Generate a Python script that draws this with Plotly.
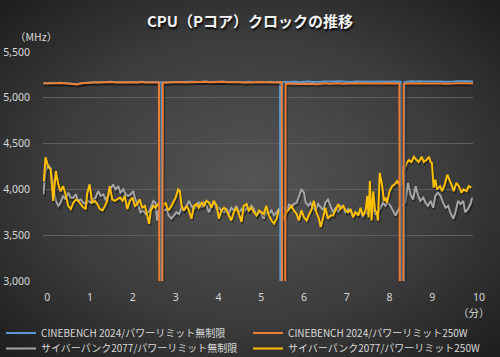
import base64
import plotly.graph_objects as go

# ---------------- data ----------------
x_ticks = [0, 1, 2, 3, 4, 5, 6, 7, 8, 9]
y_ticks = [3000, 3500, 4000, 4500, 5000, 5500]

names = [
    "CINEBENCH 2024/パワーリミット無制限",
    "CINEBENCH 2024/パワーリミット250W",
    "サイバーパンク2077/パワーリミット無制限",
    "サイバーパンク2077/パワーリミット250W",
]
colors = ["#5b9bd5", "#ed7d31", "#a5a5a5", "#ffc000"]

blue_t = [-0.09, 0.0, 0.1, 0.2, 0.3, 0.4, 0.5, 0.6, 0.7, 0.8, 0.9, 1.0, 1.1, 1.2, 1.3, 1.4,
          1.5, 1.6, 1.7, 1.8, 1.9, 2.0, 2.1, 2.2, 2.3, 2.4, 2.5, 2.64, 2.645, 2.665, 2.67,
          2.8, 2.9, 3.0, 3.1, 3.2, 3.3, 3.4, 3.5, 3.6, 3.7, 3.8, 3.9, 4.0, 4.1, 4.2, 4.3,
          4.4, 4.5, 4.6, 4.7, 4.8, 4.9, 5.0, 5.1, 5.2, 5.3, 5.44, 5.45, 5.49, 5.50,
          5.6, 5.7, 5.8, 5.9, 6.0, 6.1, 6.2, 6.3, 6.4, 6.5, 6.6, 6.7, 6.8, 6.9, 7.0, 7.1,
          7.2, 7.3, 7.4, 7.5, 7.6, 7.7, 7.8, 7.9, 8.0, 8.1, 8.26, 8.27, 8.34, 8.35,
          8.4, 8.5, 8.6, 8.7, 8.8, 8.9, 9.0, 9.1, 9.2, 9.3, 9.4, 9.5, 9.6, 9.7, 9.8, 9.95]
blue_v = [5160, 5158, 5162, 5160, 5165, 5162, 5158, 5150, 5147, 5160, 5165, 5168, 5170, 5168,
          5172, 5170, 5175, 5170, 5172, 5176, 5170, 5172, 5168, 5174, 5170, 5172, 5169, 5170,
          2700, 2700, 5168,
          5170, 5173, 5168, 5174, 5170, 5173, 5176, 5170, 5174, 5177, 5172, 5175, 5170, 5176,
          5172, 5174, 5170, 5172, 5168, 5174, 5170, 5175, 5172, 5168, 5174, 5170, 5172,
          2700, 2700, 5170,
          5174, 5172, 5176, 5171, 5175, 5178, 5172, 5170, 5176, 5179, 5174, 5177, 5180, 5175,
          5178, 5173, 5179, 5176, 5180, 5177, 5174, 5179, 5176, 5180, 5175, 5178, 5176,
          2700, 2700, 5172,
          5176, 5180, 5177, 5182, 5178, 5180, 5177, 5182, 5179, 5176, 5181, 5178, 5182, 5177,
          5180, 5178]

orange_t = [-0.09, 0.0, 0.1, 0.2, 0.3, 0.4, 0.5, 0.6, 0.7, 0.8, 0.9, 1.0, 1.1, 1.2, 1.3, 1.4,
            1.5, 1.6, 1.7, 1.8, 1.9, 2.0, 2.1, 2.2, 2.3, 2.4, 2.5, 2.61, 2.62, 2.69, 2.70,
            2.8, 2.9, 3.0, 3.1, 3.2, 3.3, 3.4, 3.5, 3.6, 3.7, 3.8, 3.9, 4.0, 4.1, 4.2, 4.3,
            4.4, 4.5, 4.6, 4.7, 4.8, 4.9, 5.0, 5.1, 5.2, 5.3, 5.48, 5.49, 5.56, 5.57,
            5.6, 5.7, 5.8, 5.9, 6.0, 6.1, 6.2, 6.3, 6.4, 6.5, 6.6, 6.7, 6.8, 6.9, 7.0, 7.1,
            7.2, 7.3, 7.4, 7.5, 7.6, 7.7, 7.8, 7.9, 8.0, 8.1, 8.23, 8.24, 8.32, 8.33,
            8.4, 8.5, 8.6, 8.7, 8.8, 8.9, 9.0, 9.1, 9.2, 9.3, 9.4, 9.5, 9.6, 9.7, 9.8, 9.95]
orange_v = [5158, 5155, 5160, 5157, 5162, 5160, 5155, 5150, 5145, 5158, 5163, 5165, 5168, 5166,
            5170, 5168, 5172, 5168, 5170, 5173, 5168, 5170, 5166, 5172, 5168, 5170, 5167, 5168,
            2700, 2700, 5165,
            5168, 5170, 5166, 5172, 5168, 5170, 5173, 5168, 5171, 5175, 5170, 5172, 5168, 5174,
            5170, 5172, 5168, 5170, 5166, 5171, 5168, 5172, 5170, 5166, 5171, 5168, 5170,
            2700, 2700, 5150,
            5155, 5152, 5156, 5150, 5154, 5157, 5152, 5148, 5155, 5158, 5153, 5156, 5160, 5154,
            5157, 5152, 5158, 5155, 5160, 5156, 5153, 5158, 5155, 5159, 5154, 5157, 5155,
            2700, 2700, 5150,
            5155, 5158, 5155, 5160, 5156, 5158, 5155, 5160, 5157, 5154, 5159, 5156, 5160, 5155,
            5158, 5156]

gray_t = [-0.09, -0.04, 0.02, 0.08, 0.14, 0.20, 0.26, 0.31, 0.37, 0.43, 0.49, 0.55, 0.61, 0.67,
          0.72, 0.78, 0.84, 0.90, 0.96, 1.01, 1.07, 1.13, 1.19, 1.25, 1.31, 1.36, 1.43, 1.48,
          1.54, 1.60, 1.66, 1.71, 1.78, 1.83, 1.89, 1.95, 2.01, 2.06, 2.13, 2.18, 2.24, 2.30,
          2.36, 2.41, 2.48, 2.53, 2.57, 2.62, 2.67, 2.73, 2.79, 2.84, 2.90, 2.96, 3.02, 3.08,
          3.14, 3.19, 3.26, 3.31, 3.37, 3.43, 3.49, 3.54, 3.61, 3.66, 3.72, 3.78, 3.84, 3.89,
          3.96, 4.01, 4.07, 4.13, 4.19, 4.24, 4.30, 4.36, 4.42, 4.48, 4.54, 4.59, 4.66, 4.71,
          4.77, 4.83, 4.89, 4.95, 5.01, 5.06, 5.12, 5.18, 5.24, 5.30, 5.36, 5.41, 5.48, 5.53,
          5.59, 5.65, 5.71, 5.76, 5.83, 5.88, 5.94, 6.00, 6.04, 6.10, 6.15, 6.21, 6.27, 6.33,
          6.39, 6.45, 6.50, 6.56, 6.62, 6.68, 6.74, 6.80, 6.85, 6.92, 6.97, 7.03, 7.09, 7.15,
          7.20, 7.27, 7.32, 7.38, 7.44, 7.50, 7.55, 7.62, 7.67, 7.73, 7.79, 7.85, 7.90, 7.96,
          8.02, 8.08, 8.14, 8.20, 8.26, 8.32, 8.37, 8.43, 8.49, 8.55, 8.61, 8.67, 8.72, 8.79,
          8.84, 8.90, 8.96, 9.02, 9.07, 9.13, 9.19, 9.25, 9.31, 9.37, 9.42, 9.49, 9.54, 9.60,
          9.66, 9.72, 9.77, 9.83, 9.89, 9.93]
gray_v = [3945, 4195, 4270, 4230, 4055, 3875, 3820, 3855, 3930, 3890, 3965, 3910, 3910, 3945,
          3875, 3890, 3855, 3840, 3875, 3855, 3890, 3910, 3980, 3930, 3945, 3890, 3930, 4000,
          4055, 4000, 4035, 3965, 4000, 3945, 3930, 3945, 3980, 3890, 3820, 3750, 3770, 3730,
          3750, 3785, 3875, 3855, 3660, 3820, 3800, 3770, 3785, 3715, 3680, 3715, 3750, 3730,
          3800, 3770, 3820, 3875, 3820, 3785, 3820, 3855, 3800, 3855, 3820, 3750, 3820, 3855,
          3785, 3800, 3770, 3750, 3785, 3730, 3800, 3770, 3820, 3750, 3785, 3750, 3800, 3770,
          3820, 3785, 3715, 3750, 3730, 3680, 3750, 3730, 3770, 3715, 3750, 3785, 3770, 3800,
          3750, 3840, 3800, 3840, 3855, 3930, 4000, 3965, 3855, 3820, 3855, 3800, 3770, 3840,
          3800, 3770, 3855, 3890, 3820, 3750, 3800, 3750, 3820, 3800, 3750, 3785, 3750, 3715,
          3750, 3730, 3750, 3695, 3750, 3730, 3785, 3770, 3730, 3750, 3800, 3855, 3820, 3855,
          3820, 3770, 3715, 3770, 3820, 3840, 3855, 4070, 3945, 3890, 4035, 3930, 3875, 3910,
          3855, 3820, 3875, 3800, 3930, 3965, 3930, 3855, 3800, 3820, 3750, 3680, 3750, 3875,
          3840, 3875, 3750, 3785, 3840, 3910]

yellow_t = [-0.08, -0.04, 0.02, 0.08, 0.14, 0.20, 0.26, 0.31, 0.37, 0.43, 0.49, 0.55, 0.61, 0.67,
            0.72, 0.78, 0.84, 0.90, 0.93, 0.99, 1.05, 1.11, 1.17, 1.23, 1.29, 1.35, 1.40, 1.46,
            1.52, 1.58, 1.64, 1.70, 1.76, 1.81, 1.87, 1.93, 1.99, 2.05, 2.10, 2.16, 2.22, 2.28,
            2.32, 2.38, 2.42, 2.48, 2.53, 2.59, 2.66, 2.71, 2.76, 2.83, 2.88, 2.94, 3.00, 3.06,
            3.10, 3.14, 3.19, 3.26, 3.31, 3.37, 3.43, 3.49, 3.54, 3.61, 3.66, 3.72, 3.78, 3.84,
            3.89, 3.96, 4.01, 4.07, 4.13, 4.19, 4.24, 4.30, 4.36, 4.42, 4.48, 4.54, 4.59, 4.66,
            4.71, 4.77, 4.83, 4.89, 4.95, 5.01, 5.06, 5.12, 5.18, 5.24, 5.30, 5.36, 5.41, 5.48,
            5.53, 5.59, 5.65, 5.71, 5.76, 5.83, 5.88, 5.94, 6.00, 6.06, 6.11, 6.18, 6.23, 6.29,
            6.35, 6.39, 6.45, 6.50, 6.56, 6.62, 6.68, 6.74, 6.80, 6.85, 6.92, 6.97, 7.03, 7.09,
            7.15, 7.20, 7.27, 7.32, 7.38, 7.44, 7.48, 7.51, 7.54, 7.58, 7.62, 7.66, 7.70, 7.73,
            7.77, 7.83, 7.87, 7.90, 7.94, 8.00, 8.06, 8.12, 8.18, 8.22, 8.28, 8.32, 8.36, 8.40,
            8.45, 8.51, 8.57, 8.63, 8.68, 8.75, 8.80, 8.86, 8.92, 8.96, 8.99, 9.03, 9.07, 9.11,
            9.18, 9.23, 9.29, 9.35, 9.42, 9.46, 9.50, 9.56, 9.62, 9.68, 9.73, 9.80, 9.85, 9.91]
yellow_v = [4090, 4350, 4250, 4215, 3875, 4200, 4050, 3980, 4035, 3945, 3820, 3785, 3855, 3890,
            3875, 3840, 3805, 3785, 3945, 4055, 3855, 3875, 3840, 3785, 3770, 3820, 3875, 4035,
            3890, 3875, 3890, 3910, 3875, 3930, 3785, 3875, 3910, 3820, 3840, 3890, 3800, 3820,
            3750, 3625, 3770, 3820, 3800, 3840, 3785, 3820, 3855, 3770, 3800, 3855, 3910, 4000,
            3980, 3820, 3770, 3820, 3770, 3680, 3820, 3840, 3800, 3855, 3820, 3875, 3855, 3800,
            3875, 3820, 3680, 3770, 3800, 3770, 3715, 3660, 3750, 3800, 3730, 3645, 3820, 3840,
            3770, 3800, 3750, 3715, 3770, 3750, 3730, 3820, 3715, 3660, 3625, 3680, 3770, 3785,
            3660, 3750, 3785, 3820, 3770, 3730, 3660, 3770, 3695, 3660, 3715, 3785, 3875, 3750,
            3680, 3590, 3695, 3800, 3680, 3715, 3715, 3770, 3840, 3785, 3820, 3770, 3750, 3785,
            3695, 3750, 3715, 3800, 3715, 3770, 3930, 3695, 4090, 3660, 3980, 3770, 3750, 3660,
            4180, 4035, 3875, 3910, 3855, 3980, 4035, 4055, 4090, 4055, 4055, 4250, 4230, 4285,
            4320, 4300, 4355, 4320, 4300, 4355, 4300, 4320, 4355, 4300, 4285, 4020, 4105, 4000,
            4035, 3980, 4055, 4160, 4090, 4035, 3980, 4070, 4035, 3965, 4000, 3980, 4035, 4020]

# ---------------- layout geometry ----------------
W, H = 500, 357
ML, MR, MT, MB = 43, 27, 52, 76
PW, PH = W - ML - MR, H - MT - MB
X_RANGE = [-0.1, 9.95]
Y_RANGE = [3000, 5500]

CJK = "Noto Sans CJK JP"
TXT = "#d9d9d9"

# shadow offsets (in data units) derived from the axis scales
sdx = 1.0 * (X_RANGE[1] - X_RANGE[0]) / PW
sdy = -1.8 * (Y_RANGE[1] - Y_RANGE[0]) / PH

# one single-entry legend per series: (legend id, left px, top px)
legend_slots = {0: ("legend", 1, 318.5), 1: ("legend2", 248, 318.5),
                2: ("legend3", 1, 334), 3: ("legend4", 248, 334)}

# draw order: gray, yellow, blue, orange
series = [
    (gray_t, gray_v, 2),
    (yellow_t, yellow_v, 3),
    (blue_t, blue_v, 0),
    (orange_t, orange_v, 1),
]

fig = go.Figure()
for t, v, idx in series:
    fig.add_trace(go.Scatter(
        x=[a + sdx for a in t], y=[b + sdy for b in v], mode="lines",
        line=dict(color="rgba(0,0,0,0.35)", width=2.4),
        showlegend=False, hoverinfo="skip"))
    fig.add_trace(go.Scatter(
        x=t, y=v, mode="lines", name=names[idx], legend=legend_slots[idx][0],
        line=dict(color=colors[idx], width=2)))

svg = (
    f'<svg xmlns="http://www.w3.org/2000/svg" width="{W}" height="{H}">'
    '<defs><radialGradient id="g" cx="50%" cy="50%" r="72%">'
    '<stop offset="0" stop-color="#555555"/>'
    '<stop offset="0.55" stop-color="#3c3c3c"/>'
    '<stop offset="1" stop-color="#1c1c1c"/>'
    '</radialGradient></defs>'
    f'<rect width="{W}" height="{H}" fill="url(#g)"/></svg>'
)
bg_src = "data:image/svg+xml;base64," + base64.b64encode(svg.encode()).decode()

legends = {}
for idx, (lid, lx, ly) in legend_slots.items():
    legends[lid] = dict(orientation="v", x=(lx - ML) / PW, xanchor="left",
                        y=(MT + PH - ly) / PH, yanchor="top",
                        itemwidth=30, bgcolor="rgba(0,0,0,0)", borderwidth=0,
                        font=dict(family=CJK, size=10, color=TXT))

fig.update_layout(
    width=W, height=H,
    margin=dict(l=ML, r=MR, t=MT, b=MB, pad=0, autoexpand=False),
    paper_bgcolor="#2a2a2a",
    plot_bgcolor="rgba(0,0,0,0)",
    images=[dict(source=bg_src, xref="paper", yref="paper",
                 x=-ML / PW, y=1 + MT / PH, sizex=W / PW, sizey=H / PH,
                 xanchor="left", yanchor="top", sizing="stretch", layer="below")],
    title=dict(text="<b>CPU（Pコア）クロックの推移</b>", x=0.5, xref="container",
               xanchor="center", y=1 - 22 / H, yref="container", yanchor="middle",
               font=dict(family=CJK, size=15, color="#f2f2f2",
                         shadow="1px 2px 2px rgba(0,0,0,0.9)")),
    xaxis=dict(range=X_RANGE, tickvals=x_ticks, showgrid=False, zeroline=False,
               showline=False, ticks="", ticklabelstandoff=8,
               tickfont=dict(family="Noto Sans", size=10.5, color=TXT)),
    yaxis=dict(range=Y_RANGE, tickvals=y_ticks, tickformat=",", showgrid=True,
               gridcolor="#5f5f5f", gridwidth=1, zeroline=False, showline=False,
               ticks="", ticklabelstandoff=12,
               tickfont=dict(family="Noto Sans", size=10.5, color=TXT)),
    annotations=[
        dict(text="（MHz）", xref="paper", yref="paper", x=(13 - ML) / PW, y=1 + 16 / PH,
             xanchor="left", yanchor="middle", showarrow=False,
             font=dict(family=CJK, size=10.5, color=TXT)),
        dict(text="（分）", xref="paper", yref="paper", x=(474 - ML) / PW, y=-31 / PH,
             xanchor="center", yanchor="middle", showarrow=False,
             font=dict(family=CJK, size=10.5, color=TXT)),
        dict(text="10", xref="paper", yref="paper", x=(479 - ML) / PW, y=-16 / PH,
             xanchor="center", yanchor="middle", showarrow=False,
             font=dict(family="Noto Sans", size=10.5, color=TXT)),
    ],
    showlegend=True,
    **legends,
)

fig.write_html("out.html", config={"displayModeBar": False},
               post_script="document.body.style.margin='0';"
                           "document.body.style.background='#1c1c1c';")
